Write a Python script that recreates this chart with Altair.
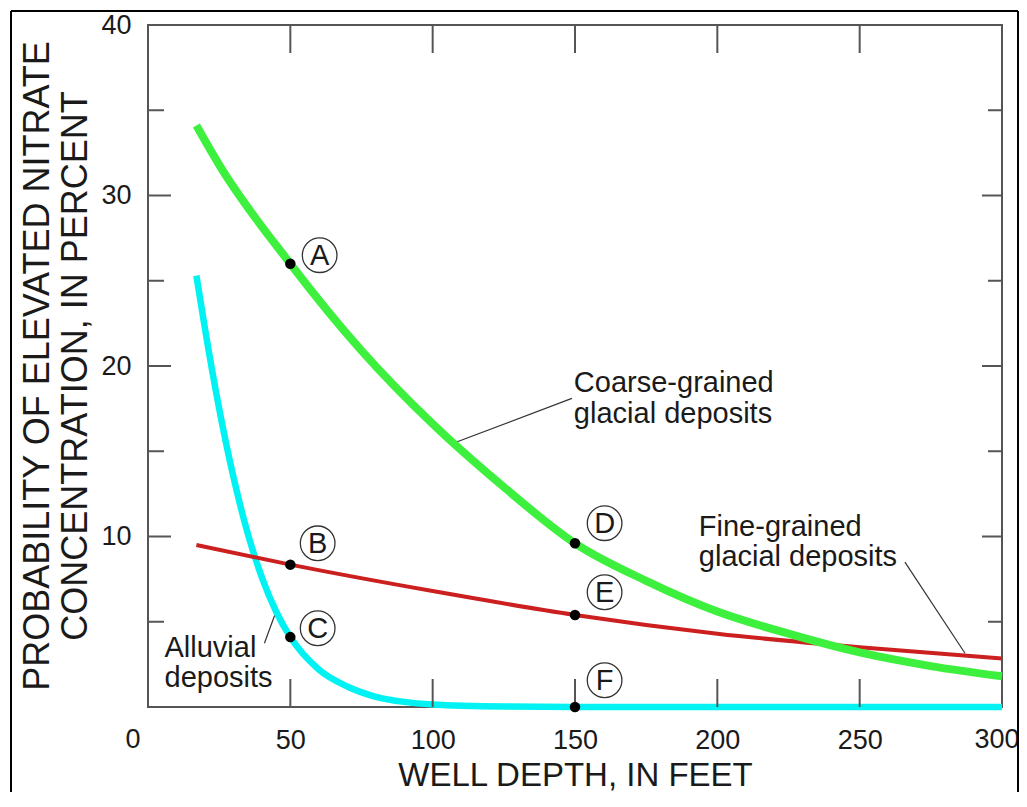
import altair as alt
import pandas as pd

# ---------------- data ----------------
coarse_depth = [17, 25, 50, 75, 100, 125, 150, 175, 200, 225, 250, 275, 300]
coarse_prob = [34.1, 31.8, 26.0, 20.9, 16.6, 12.9, 9.6, 7.4, 5.6, 4.3, 3.2, 2.4, 1.8]

fine_depth = [17, 50, 100, 150, 200, 250, 300]
fine_prob = [9.5, 8.35, 6.8, 5.4, 4.3, 3.5, 2.85]

alluvial_depth = [17, 20, 25, 30, 35, 40, 45, 50, 60, 70, 80, 90, 100, 125, 150, 200, 250, 300]
alluvial_prob = [25.3, 22.2, 17.5, 13.5, 10.2, 7.6, 5.6, 4.1, 2.2, 1.2, 0.6, 0.3, 0.15, 0.03, 0.0, 0.0, 0.0, 0.0]

pt_label = ["A", "B", "C", "D", "E", "F"]
pt_depth = [50, 50, 50, 150, 150, 150]
pt_prob = [26.0, 8.35, 4.1, 9.6, 5.4, 0.0]
lab_depth = [60.3, 59.6, 59.6, 160.4, 160.4, 160.4]
lab_prob = [26.5, 9.6, 4.62, 10.78, 6.73, 1.57]

note_text = ["Coarse-grained", "glacial deposits", "Fine-grained", "glacial deposits", "Alluvial", "deposits"]
note_depth = [149.6, 149.6, 193.5, 193.5, 5.8, 5.8]
note_prob = [19.0, 17.2, 10.55, 8.8, 3.45, 1.7]

leader_id = ["coarse", "coarse", "fine", "fine", "alluvial", "alluvial"]
leader_depth = [148.9, 107.7, 265.9, 287.0, 40.9, 44.5]
leader_prob = [18.1, 15.5, 8.5, 3.15, 3.74, 5.38]

x_tick_values = [50, 100, 150, 200, 250]
y_major_ticks = [10, 20, 30]
y_minor_ticks = [5, 15, 25, 35]
x_label_values = [50, 100, 150, 200, 250]
x_corner_labels = ["0", "300"]
x_corner_values = [0, 300]
y_label_values = [10, 20, 30, 40]

y_title_lines = ["PROBABILITY OF ELEVATED NITRATE", "CONCENTRATION, IN PERCENT"]

# ---------------- layout ----------------
W, H = 854, 682
FONT = "Liberation Sans"
TXT = "#1a1a1a"
AXC = "#555555"

xs = alt.Scale(domain=[0, 300], nice=False, zero=False)
ys = alt.Scale(domain=[0, 40], nice=False, zero=False)

x_axis = alt.Axis(values=x_label_values, ticks=False, domain=False, grid=False,
                  labelFontSize=27, labelPadding=20, labelBaseline="top", labelFlush=False,
                  labelColor=TXT, labelFont=FONT,
                  title="WELL DEPTH, IN FEET", titleFontSize=33, titleFont=FONT,
                  titleFontWeight="normal", titleColor=TXT, titleY=68, titleBaseline="middle")
y_axis = alt.Axis(values=y_label_values, ticks=False, domain=False, grid=False,
                  labelFontSize=27, labelPadding=17, labelColor=TXT, labelFont=FONT,
                  title=None)

coarse_df = pd.DataFrame({"depth": coarse_depth, "prob": coarse_prob})
fine_df = pd.DataFrame({"depth": fine_depth, "prob": fine_prob})
alluvial_df = pd.DataFrame({"depth": alluvial_depth, "prob": alluvial_prob})
pts_df = pd.DataFrame({"label": pt_label, "depth": pt_depth, "prob": pt_prob,
                       "ldepth": lab_depth, "lprob": lab_prob})
notes_df = pd.DataFrame({"text": note_text, "depth": note_depth, "prob": note_prob})
leader_df = pd.DataFrame({"id": leader_id, "depth": leader_depth, "prob": leader_prob})

base_axes = alt.Chart(pd.DataFrame({"depth": [0], "prob": [0]})).mark_point(opacity=0).encode(
    x=alt.X("depth:Q", scale=xs, axis=x_axis),
    y=alt.Y("prob:Q", scale=ys, axis=y_axis),
)

def curve(df, color, width):
    return alt.Chart(df).mark_line(color=color, strokeWidth=width, interpolate="monotone",
                                   strokeCap="butt").encode(
        x=alt.X("depth:Q", scale=xs), y=alt.Y("prob:Q", scale=ys))

alluvial_line = curve(alluvial_df, "#00f2f2", 6.5)
fine_line = curve(fine_df, "#cc1f1f", 4)
coarse_line = curve(coarse_df, "#3ef03e", 8)

leaders = alt.Chart(leader_df).mark_line(color="#333333", strokeWidth=1.2).encode(
    x=alt.X("depth:Q", scale=xs), y=alt.Y("prob:Q", scale=ys), detail="id:N")

dots = alt.Chart(pts_df).mark_circle(color="black", opacity=1, size=110).encode(
    x=alt.X("depth:Q", scale=xs), y=alt.Y("prob:Q", scale=ys))
rings = alt.Chart(pts_df).mark_point(shape="circle", color="#333333", strokeWidth=1.3,
                                     filled=False, size=1200, opacity=1).encode(
    x=alt.X("ldepth:Q", scale=xs), y=alt.Y("lprob:Q", scale=ys))
letters = alt.Chart(pts_df).mark_text(font=FONT, fontSize=29, color=TXT, align="center",
                                      baseline="middle", dy=1).encode(
    x=alt.X("ldepth:Q", scale=xs), y=alt.Y("lprob:Q", scale=ys), text="label:N")

notes = alt.Chart(notes_df).mark_text(font=FONT, fontSize=29, color=TXT, align="left",
                                      baseline="middle").encode(
    x=alt.X("depth:Q", scale=xs), y=alt.Y("prob:Q", scale=ys), text="text:N")

# corner labels "0" (shared origin) and "300" (nudged to stay on the page)
zero_label = alt.Chart(pd.DataFrame({"depth": [x_corner_values[0]], "prob": [0],
                                     "t": [x_corner_labels[0]]})).mark_text(
    font=FONT, fontSize=27, color=TXT, align="center", baseline="top", dx=-15, dy=20).encode(
    x=alt.X("depth:Q", scale=xs), y=alt.Y("prob:Q", scale=ys), text="t:N")
end_label = alt.Chart(pd.DataFrame({"depth": [x_corner_values[1]], "prob": [0],
                                    "t": [x_corner_labels[1]]})).mark_text(
    font=FONT, fontSize=27, color=TXT, align="center", baseline="top", dx=-5, dy=20).encode(
    x=alt.X("depth:Q", scale=xs), y=alt.Y("prob:Q", scale=ys), text="t:N")

# y-axis title, two rotated lines
yt1 = alt.Chart(pd.DataFrame({"t": [y_title_lines[0]]})).mark_text(
    font=FONT, fontSize=36, color=TXT, angle=270, align="center", baseline="middle").encode(
    x=alt.value(-110), y=alt.value(H / 2), text="t:N")
yt2 = alt.Chart(pd.DataFrame({"t": [y_title_lines[1]]})).mark_text(
    font=FONT, fontSize=36, color=TXT, angle=270, align="center", baseline="middle").encode(
    x=alt.value(-72), y=alt.value(H / 2), text="t:N")

# inward tick marks
xt = pd.DataFrame({"depth": x_tick_values})
ymaj = pd.DataFrame({"prob": y_major_ticks})
ymin = pd.DataFrame({"prob": y_minor_ticks})
tick_style = dict(color=AXC, strokeWidth=2)
bottom_ticks = alt.Chart(xt).mark_rule(**tick_style).encode(
    x=alt.X("depth:Q", scale=xs), y=alt.value(H), y2=alt.value(H - 28))
top_ticks = alt.Chart(xt).mark_rule(**tick_style).encode(
    x=alt.X("depth:Q", scale=xs), y=alt.value(0), y2=alt.value(28))
left_major = alt.Chart(ymaj).mark_rule(**tick_style).encode(
    y=alt.Y("prob:Q", scale=ys), x=alt.value(0), x2=alt.value(23))
left_minor = alt.Chart(ymin).mark_rule(**tick_style).encode(
    y=alt.Y("prob:Q", scale=ys), x=alt.value(0), x2=alt.value(16))
right_major = alt.Chart(ymaj).mark_rule(**tick_style).encode(
    y=alt.Y("prob:Q", scale=ys), x=alt.value(W), x2=alt.value(W - 20))
right_minor = alt.Chart(ymin).mark_rule(**tick_style).encode(
    y=alt.Y("prob:Q", scale=ys), x=alt.value(W), x2=alt.value(W - 14))

# outer figure frame
one = pd.DataFrame({"a": [0]})
frame_style = dict(color="black", strokeWidth=2)
frame_top = alt.Chart(one).mark_rule(**frame_style).encode(
    x=alt.value(-137), x2=alt.value(870), y=alt.value(-14))
frame_left = alt.Chart(one).mark_rule(**frame_style).encode(
    x=alt.value(-137), y=alt.value(-14), y2=alt.value(H + 90))
frame_right = alt.Chart(one).mark_rule(**frame_style).encode(
    x=alt.value(870), y=alt.value(-14), y2=alt.value(H + 90))

chart = alt.layer(
    base_axes, leaders, alluvial_line, fine_line, coarse_line,
    bottom_ticks, top_ticks, left_major, left_minor, right_major, right_minor,
    dots, rings, letters, notes, zero_label, end_label, yt1, yt2,
    frame_top, frame_left, frame_right,
).properties(
    width=W, height=H,
    autosize=alt.AutoSizeParams(type="none"),
    padding={"left": 140, "top": 17, "right": 17, "bottom": 85},
    background="white",
).configure_view(stroke=AXC, strokeWidth=2)

chart.save("out.html", embed_options={"renderer": "svg", "actions": False})
